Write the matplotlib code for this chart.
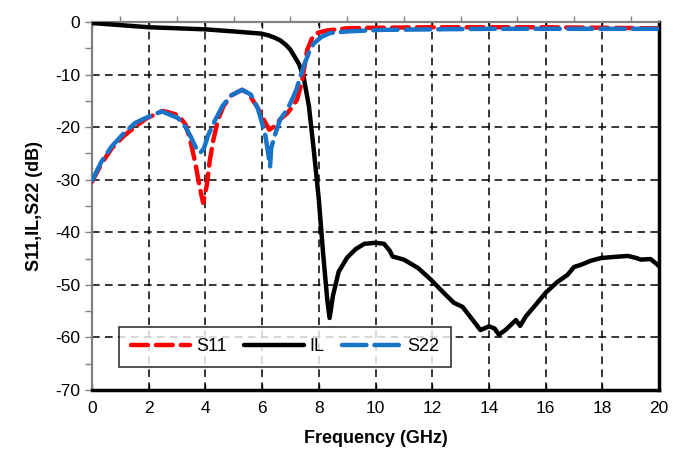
import matplotlib
matplotlib.use("Agg")
import matplotlib.pyplot as plt
from matplotlib.ticker import MultipleLocator

plt.rcParams['font.family'] = ['Liberation Sans', 'DejaVu Sans']
plt.rcParams['axes.unicode_minus'] = False

# ---- data ----
il_f = [0, 1, 2, 3, 4, 5, 5.94, 6.2, 6.45, 6.64, 6.85, 7.0, 7.1, 7.3, 7.46, 7.65, 7.82, 8.0,
        8.15, 8.3, 8.38, 8.5, 8.7, 9.0, 9.3, 9.6, 10.0, 10.3, 10.5, 10.6, 11.0, 11.5, 11.95,
        12.4, 12.76, 13.07, 13.4, 13.7, 14.0, 14.2, 14.35, 14.6, 14.95, 15.1, 15.3, 15.6, 16.0,
        16.4, 16.77, 17.0, 17.24, 17.6, 17.95, 18.4, 18.9, 19.2, 19.36, 19.7, 19.95, 20.0]
il_db = [-0.2, -0.6, -1.0, -1.2, -1.4, -1.8, -2.2, -2.5, -3.0, -3.5, -4.4, -5.3, -6.2, -8,
         -10.4, -16, -24.3, -33.8, -44, -53, -56.3, -52, -47.5, -44.8, -43.2, -42.2, -42.0,
         -42.2, -43.5, -44.6, -45.2, -46.8, -49, -51.5, -53.4, -54.2, -56.5, -58.6, -57.9,
         -58.3, -59.5, -58.5, -56.7, -57.8, -56, -54.1, -51.5, -49.5, -48.1, -46.6, -46.2,
         -45.4, -44.9, -44.7, -44.5, -44.9, -45.2, -45.1, -46.2, -46.5]

s11_f = [0, 0.34, 0.7, 1.1, 1.5, 1.93, 2.5, 3.04, 3.3, 3.46, 3.65, 3.8, 3.92, 4.05, 4.15, 4.28,
         4.45, 4.63, 4.9, 5.29, 5.5, 5.82, 6.05, 6.25, 6.45, 6.64, 6.88, 7.0, 7.23, 7.4, 7.59,
         7.75, 7.94, 8.3, 9.0, 10, 12, 14, 16, 18, 20]
s11_db = [-30.4, -26.9, -24, -21.8, -20, -18.3, -16.9, -17.7, -19.5, -22.4, -27, -31.5, -34.4,
          -31, -26.5, -22.4, -18.5, -16.1, -14, -12.9, -13.5, -16.1, -18.5, -20.5, -19.8, -18.5,
          -17.4, -16.6, -14.8, -11.5, -5.3, -3.2, -2.1, -1.6, -1.2, -1.1, -1.0, -1.0, -1.0,
          -1.1, -1.2]

s22_f = [0, 0.34, 0.69, 1.1, 1.52, 2.0, 2.46, 3.04, 3.29, 3.5, 3.65, 3.82, 3.95, 4.1, 4.35, 4.6,
         4.9, 5.29, 5.6, 5.85, 6.0, 6.11, 6.2, 6.28, 6.32, 6.45, 6.64, 6.88, 7.0, 7.2, 7.46,
         7.65, 7.82, 8.1, 8.4, 9.0, 10.2, 12, 14, 16, 18, 20]
s22_db = [-30.2, -26.5, -23.7, -21.3, -19.2, -18, -17, -18.3, -19.9, -22, -23.8, -24.9, -24,
          -21.5, -18.6, -16, -14, -12.9, -13.8, -16.5, -19.3, -21.5, -24.5, -27.5, -24, -21.5,
          -18.5, -16.7, -15.4, -13, -8.5, -5.8, -4.1, -2.8, -2.1, -1.8, -1.5, -1.4, -1.3, -1.3,
          -1.3, -1.3]

x_ticks = [0, 2, 4, 6, 8, 10, 12, 14, 16, 18, 20]
y_ticks = [0, -10, -20, -30, -40, -50, -60, -70]

# ---- figure ----
fig = plt.figure(figsize=(6.83, 4.58), dpi=100)
ax = fig.add_axes([0.1347, 0.1485, 0.8303, 0.8035])

ax.set_xlim(0, 20)
ax.set_ylim(-70, 0)

ax.grid(True, which='major', color='black', linestyle=(0, (5, 3.5)), linewidth=1.1)
ax.set_axisbelow(True)

ax.plot(il_f, il_db, color='black', lw=3.2, solid_capstyle='round', solid_joinstyle='round',
        label='IL', zorder=3)
ax.plot(s11_f, s11_db, color='#ff0000', lw=3.2, linestyle=(0, (3.8, 1.8)),
        dash_capstyle='round', dash_joinstyle='round', label='S11', zorder=4)
ax.plot(s22_f, s22_db, color='#1874c8', lw=3.2, linestyle=(0, (5.5, 1.8)),
        dash_capstyle='round', dash_joinstyle='round', label='S22', zorder=5)

ax.set_xticks(x_ticks)
ax.set_yticks(y_ticks)
ax.xaxis.set_minor_locator(MultipleLocator(1))
ax.yaxis.set_minor_locator(MultipleLocator(5))
ax.tick_params(axis='x', which='both', direction='in', length=4, width=1, labelsize=12.5,
               pad=8, top=True, colors='black')
ax.tick_params(axis='x', which='minor', bottom=False, top=True, direction='out', length=4,
               color='#808080')
ax.tick_params(axis='x', which='major', top=True, direction='in', length=4)
ax.tick_params(axis='y', which='both', direction='out', length=5, width=1, labelsize=12.5,
               color='#808080', labelcolor='black')

for s in ['left', 'top']:
    ax.spines[s].set_color('#808080')
    ax.spines[s].set_linewidth(1.6)
for s in ['bottom', 'right']:
    ax.spines[s].set_color('black')
    ax.spines[s].set_linewidth(2.5)

ax.set_xlabel('Frequency (GHz)', fontsize=13, fontweight='bold', labelpad=10)
ax.set_ylabel('S11,IL,S22 (dB)', fontsize=13, fontweight='bold', labelpad=9)

handles, labels = ax.get_legend_handles_labels()
order = [labels.index('S11'), labels.index('IL'), labels.index('S22')]
leg = ax.legend([handles[i] for i in order], [labels[i] for i in order], ncol=3,
                loc='lower left', bbox_to_anchor=(0.032, 0.038, 0.617, 0.112), mode='expand',
                fontsize=13, handlelength=3.3, handletextpad=0.3, columnspacing=1.2,
                frameon=True, fancybox=False, edgecolor='black', borderpad=0.65)
leg.get_frame().set_linewidth(1.2)
leg.set_zorder(10)

fig.savefig('out.png', dpi=100)
